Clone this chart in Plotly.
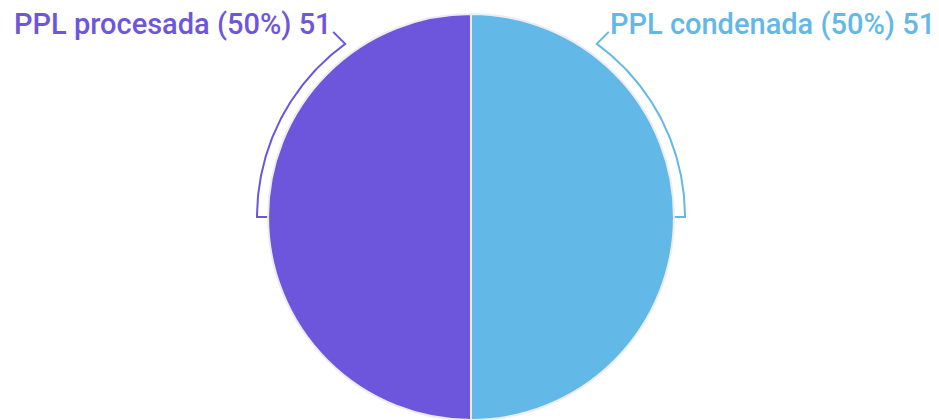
import math
import plotly.graph_objects as go

labels = ["PPL procesada", "PPL condenada"]
values = [51, 51]
colors = ["#6E56DC", "#62B8E6"]

W, H = 939, 420
OFF = 8  # browser body margin compensation
cx, cy, R = 471 - OFF, 217 - OFF, 203
arc_r = R + 11
rotation = 180  # clockwise degrees from 12 o'clock where the first slice starts

total = sum(values)
fig = go.Figure()
fig.add_trace(go.Pie(
    labels=labels, values=values, sort=False, direction="clockwise", rotation=rotation,
    marker=dict(colors=colors, line=dict(color="#ececf4", width=2)),
    textinfo="none", hoverinfo="label+value+percent", showlegend=False,
    domain=dict(x=[(cx - R) / W, (cx + R) / W], y=[(H - cy - R) / H, (H - cy + R) / H]),
))


def pt(theta, r):
    t = math.radians(theta)
    return cx + r * math.sin(t), cy - r * math.cos(t)


start = float(rotation)
for lab, val, col in zip(labels, values, colors):
    span = 360.0 * val / total
    a0, a1 = start, start + span
    mid = (a0 + a1) / 2
    if math.cos(math.radians(a0)) >= math.cos(math.radians(a1)):
        end = a0 + 0.2 * span
    else:
        end = a1 - 0.2 * span
    n = 90
    xs, ys = [], []
    px, py = pt(mid, R - 2)
    xs.append(px); ys.append(py)
    for i in range(n + 1):
        a = mid + (end - mid) * i / n
        px, py = pt(a, arc_r)
        xs.append(px); ys.append(py)
    ex, ey = xs[-1], ys[-1]
    side = 1 if math.sin(math.radians(mid)) > 0 else -1
    tx, ty = ex + side * 12, ey - 12
    xs.append(tx); ys.append(ty)
    fig.add_trace(go.Scatter(x=xs, y=ys, mode="lines", line=dict(color=col, width=2),
                             hoverinfo="skip", showlegend=False))
    pct = round(100 * val / total)
    fig.add_annotation(x=tx, y=ty - 8, xref="x", yref="y",
                       text=f"{lab} ({pct}%) {val}", showarrow=False, borderpad=0,
                       xanchor="right" if side < 0 else "left", yanchor="middle",
                       font=dict(family="Roboto", size=29, color=col, weight=500))
    start = a1

fig.update_layout(
    width=W, height=H, margin=dict(l=0, r=0, t=0, b=0),
    paper_bgcolor="white", plot_bgcolor="rgba(0,0,0,0)",
    xaxis=dict(range=[0, W], visible=False, fixedrange=True, domain=[0, 1]),
    yaxis=dict(range=[H, 0], visible=False, fixedrange=True, domain=[0, 1]),
)
fig.write_html("out.html")
